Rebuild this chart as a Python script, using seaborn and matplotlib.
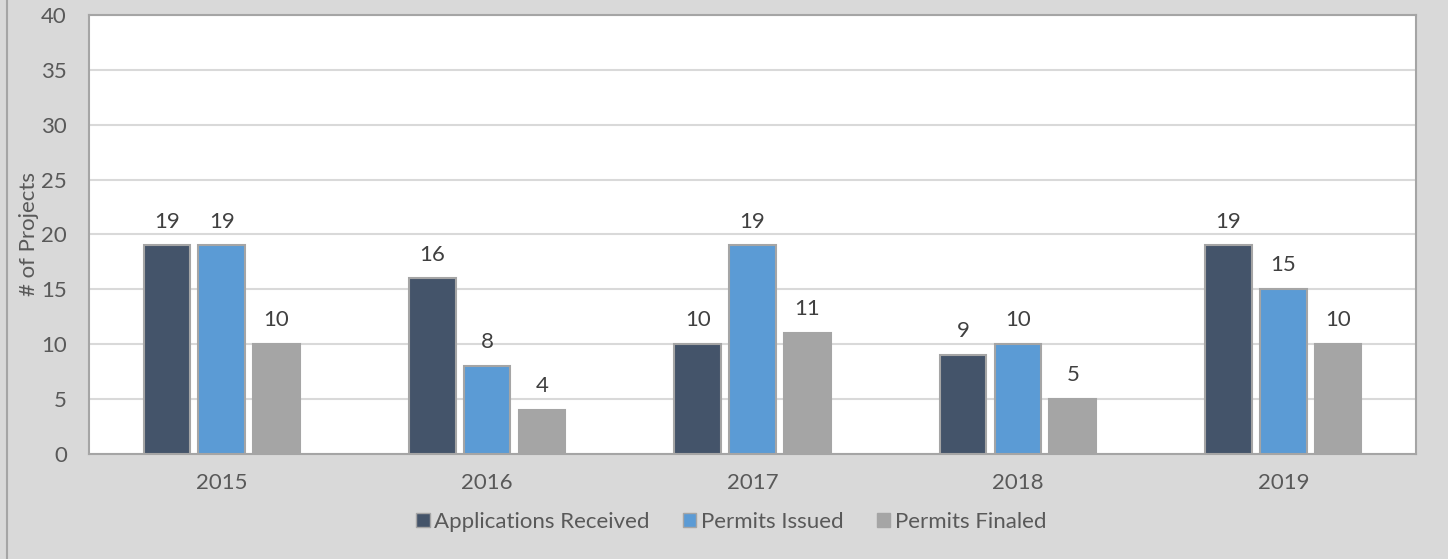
import pandas as pd
import seaborn as sns
import matplotlib.pyplot as plt
from matplotlib.lines import Line2D

years = ['2015', '2016', '2017', '2018', '2019']
applications = [19, 16, 10, 9, 19]
issued = [19, 8, 19, 10, 15]
finaled = [10, 4, 11, 5, 10]
series = ['Applications Received', 'Permits Issued', 'Permits Finaled']
colors = ['#44546A', '#5B9BD5', '#A5A5A5']

df = pd.DataFrame({
    'Year': years * 3,
    'Count': applications + issued + finaled,
    'Series': [s for s in series for _ in years],
})

sns.set_style('white')
plt.rcParams['font.family'] = ['Lato', 'DejaVu Sans']

fig = plt.figure(figsize=(14.48, 5.59), dpi=100, facecolor='#D9D9D9')
ax = fig.add_axes([89 / 1448, 1 - 454 / 559, (1416 - 89) / 1448, (454 - 15) / 559])

sns.barplot(data=df, x='Year', y='Count', hue='Series', palette=colors,
            saturation=1, width=0.62, gap=0.15, edgecolor='#A5A5A5', linewidth=1.5,
            ax=ax, legend=False, zorder=3)

for c in ax.containers:
    ax.bar_label(c, padding=10, fontsize=16, color='#404040')

ax.set_ylim(0, 40)
ax.set_yticks(range(0, 41, 5))
ax.yaxis.grid(True, color='#D9D9D9', linewidth=1.5, zorder=0)
ax.set_xlabel('')
ax.set_ylabel('# of Projects', fontsize=16, color='#595959')
ax.yaxis.set_label_coords(-0.0375, 0.5)
ax.tick_params(axis='both', length=0, labelsize=16, labelcolor='#595959')
ax.tick_params(axis='x', pad=14)
ax.tick_params(axis='y', pad=16)
for s in ax.spines.values():
    s.set_color('#A5A5A5')
    s.set_linewidth(1.5)

handles = [plt.Rectangle((0, 0), 1, 1, facecolor=col, edgecolor='#A5A5A5') for col in colors]
fig.legend(handles, series, loc='center', bbox_to_anchor=(0.505, 1 - 522 / 559),
           ncol=3, frameon=False, fontsize=16, labelcolor='#595959',
           handlelength=0.6, handleheight=0.6, handletextpad=0.2, columnspacing=1.5)

fig.add_artist(Line2D([7 / 1448, 7 / 1448], [0, 1], color='#A5A5A5', linewidth=1.5))

fig.savefig('out.png', dpi=100, facecolor=fig.get_facecolor())
